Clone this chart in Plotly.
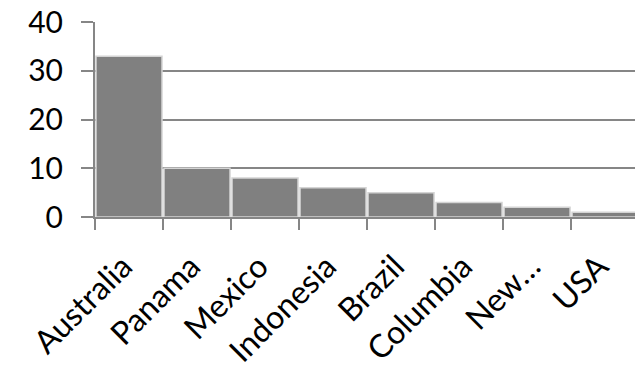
import plotly.graph_objects as go

# Category counts per country
countries = ["Australia", "Panama", "Mexico", "Indonesia", "Brazil", "Columbia", "New…", "USA"]
counts = [33, 10, 8, 6, 5, 3, 2, 1]
y_ticks = [0, 10, 20, 30, 40]

axis_gray = "#868686"

fig = go.Figure(
    go.Bar(
        x=countries,
        y=counts,
        marker=dict(color="#808080", line=dict(color="#d4d4d4", width=1.5)),
        hoverinfo="x+y",
    )
)

fig.update_layout(
    width=635,
    height=375,
    margin=dict(l=95, r=0, t=22, b=158),
    paper_bgcolor="white",
    plot_bgcolor="white",
    bargap=0.03,
    showlegend=False,
    font=dict(family="Lato, Carlito, Calibri, sans-serif", color="black"),
)

fig.update_xaxes(
    range=[-0.5, 7.44],
    tickson="boundaries",
    ticks="outside",
    ticklen=11,
    tickwidth=2,
    tickcolor=axis_gray,
    showline=True,
    linecolor=axis_gray,
    linewidth=2,
    tickangle=-45,
    tickfont=dict(size=32),
    ticklabelstandoff=16,
    ticklabelshift=-6,
    showgrid=False,
    automargin=False,
    fixedrange=True,
)

fig.update_yaxes(
    range=[0, 40],
    tickvals=y_ticks,
    ticks="outside",
    ticklen=12,
    tickwidth=2,
    tickcolor=axis_gray,
    showline=True,
    linecolor=axis_gray,
    linewidth=2,
    showgrid=True,
    gridcolor=axis_gray,
    gridwidth=2,
    zeroline=False,
    tickfont=dict(size=30),
    ticklabelstandoff=12,
    automargin=False,
    fixedrange=True,
)

fig.write_html("out.html")
